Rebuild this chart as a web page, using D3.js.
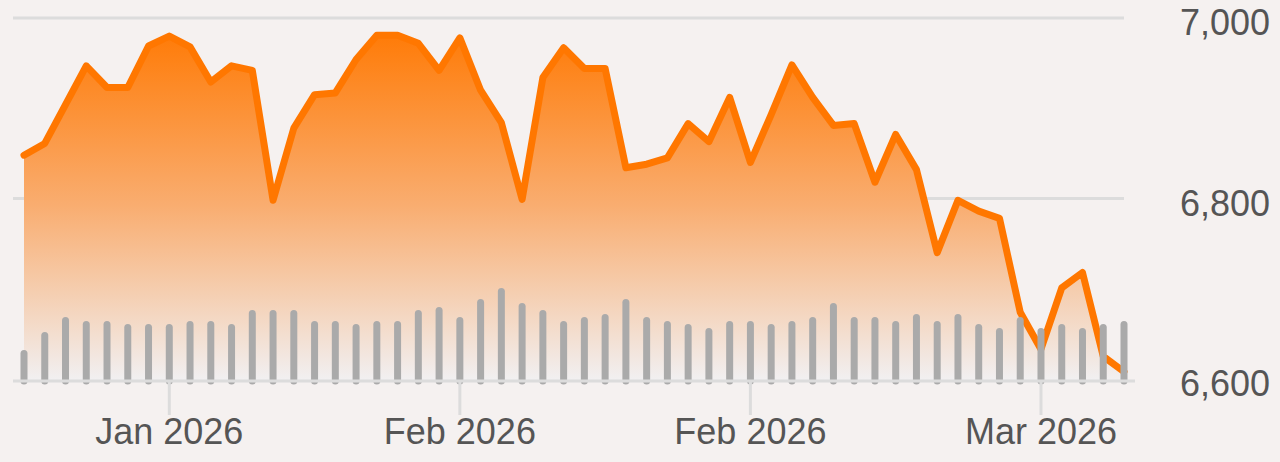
<!DOCTYPE html>
<html>
<head>
<meta charset="utf-8">
<script src="https://cdn.jsdelivr.net/npm/d3@7"></script>
<style>
  html, body { margin: 0; padding: 0; background: #f5f1f0; }
  svg { display: block; }
  text { font-family: "Liberation Sans", Arial, sans-serif; }
</style>
</head>
<body>
<svg id="chart" width="1280" height="462"></svg>
<script>
// ---- data ----
const prices = [6848, 6861, 6904, 6947, 6923, 6923, 6969, 6980, 6968, 6929,
  6947, 6942, 6798, 6878, 6915, 6917, 6954, 6981, 6981, 6972,
  6942, 6978, 6920, 6884, 6799, 6934, 6967, 6944, 6944, 6834,
  6838, 6845, 6883, 6863, 6912, 6840, 6893, 6948, 6912, 6881,
  6883, 6818, 6871, 6832, 6740, 6798, 6786, 6778, 6674, 6633,
  6701, 6718, 6625, 6608];
const volumes = [3.1, 4.9, 6.4, 6.0, 6.0, 5.7, 5.7, 5.7, 6.0, 6.0,
  5.7, 7.1, 7.1, 7.1, 6.0, 6.0, 5.7, 6.0, 6.0, 7.1,
  7.4, 6.4, 8.2, 9.3, 7.8, 7.1, 6.0, 6.4, 6.7, 8.2,
  6.4, 6.0, 5.7, 5.3, 6.0, 6.0, 5.7, 6.0, 6.4, 7.8,
  6.4, 6.4, 6.0, 6.7, 6.0, 6.7, 5.7, 5.3, 6.4, 5.3,
  5.7, 5.3, 5.7, 6.0];
const tickIndex = [7, 21, 35, 49];
const tickLabels = ["Jan 2026", "Feb 2026", "Feb 2026", "Mar 2026"];
const yTicks = [6600, 6800, 7000];

// ---- layout ----
const svg = d3.select("#chart");
const idx = d3.range(prices.length);
const x = d3.scaleLinear().domain([0, prices.length - 1]).range([24, 1124]);
const y = d3.scaleLinear().domain([6600, 7000]).range([379, 18]);
const baseY = 381;
const v = d3.scaleLinear().domain([0, 10]).range([baseY, baseY - 100]);

// gradient
const defs = svg.append("defs");
const grad = defs.append("linearGradient").attr("id", "areaGrad")
  .attr("gradientUnits", "userSpaceOnUse")
  .attr("x1", 0).attr("x2", 0).attr("y1", 30).attr("y2", baseY);
grad.append("stop").attr("offset", "0").attr("stop-color", "#ff7a05");
grad.append("stop").attr("offset", "0.5").attr("stop-color", "#f9ad70");
grad.append("stop").attr("offset", "1").attr("stop-color", "#f1f0f2");

// gridlines
svg.append("g").selectAll("line").data(yTicks.filter(t => t > 6600)).join("line")
  .attr("x1", 13).attr("x2", 1124)
  .attr("y1", d => y(d)).attr("y2", d => y(d))
  .attr("stroke", "#dcdcdc").attr("stroke-width", 3);

// area
svg.append("path").datum(idx)
  .attr("d", d3.area().x(i => x(i)).y0(baseY).y1(i => y(prices[i])))
  .attr("fill", "url(#areaGrad)");

// line
svg.append("path").datum(idx)
  .attr("d", d3.line().x(i => x(i)).y(i => y(prices[i])))
  .attr("fill", "none").attr("stroke", "#ff7700").attr("stroke-width", 7)
  .attr("stroke-linejoin", "round").attr("stroke-linecap", "round");

// volume bars
svg.append("g").selectAll("line").data(idx).join("line")
  .attr("x1", i => x(i)).attr("x2", i => x(i))
  .attr("y1", baseY).attr("y2", i => v(volumes[i]) + 3.5)
  .attr("stroke", "#aaaaaa").attr("stroke-width", 7).attr("stroke-linecap", "round");
// axis line (covers bottom rounding of bars)
svg.append("line").attr("x1", 13).attr("x2", 1135).attr("y1", baseY).attr("y2", baseY)
  .attr("stroke", "#dcdcdc").attr("stroke-width", 3);

// x ticks
const xg = svg.append("g");
xg.selectAll("line").data(tickIndex).join("line")
  .attr("x1", d => x(d)).attr("x2", d => x(d))
  .attr("y1", baseY).attr("y2", 415)
  .attr("stroke", "#dcdcdc").attr("stroke-width", 3);
xg.selectAll("text").data(tickIndex).join("text")
  .attr("x", d => x(d)).attr("y", 444)
  .attr("text-anchor", "middle").attr("font-size", 36).attr("fill", "#555")
  .text((d, i) => tickLabels[i]);

// y labels
svg.append("g").selectAll("text").data(yTicks).join("text")
  .attr("x", 1270).attr("y", d => y(d) + 17)
  .attr("text-anchor", "end").attr("font-size", 36).attr("fill", "#555")
  .text(d => d3.format(",")(d));
</script>
</body>
</html>
